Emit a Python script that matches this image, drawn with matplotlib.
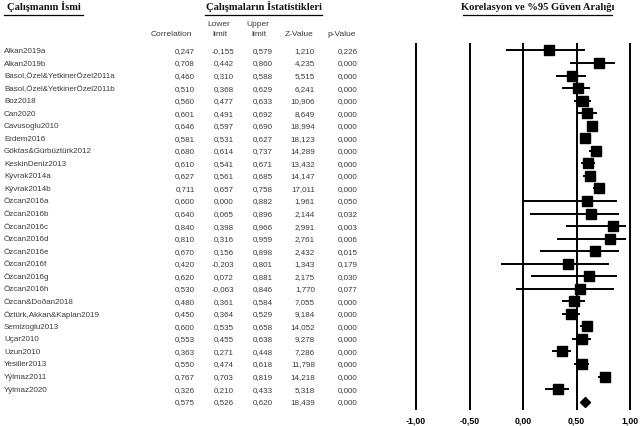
import numpy as np
import matplotlib
matplotlib.use("Agg")
import matplotlib.pyplot as plt
from matplotlib.transforms import blended_transform_factory
from matplotlib.lines import Line2D

studies = [
    "Alkan2019a", "Alkan2019b", "Basol,Özel&YetkinerÖzel2011a",
    "Basol,Özel&YetkinerÖzel2011b", "Boz2018", "Can2020", "Cavusoglu2010",
    "Erdem2016", "Göktas&Gürbüztürk2012", "KeskinDeniz2013", "Kývrak2014a",
    "Kývrak2014b", "Özcan2016a", "Özcan2016b", "Özcan2016c", "Özcan2016d",
    "Özcan2016e", "Özcan2016f", "Özcan2016g", "Özcan2016h", "Özcan&Doðan2018",
    "Öztürk,Akkan&Kaplan2019", "Semizoglu2013", "Uçar2010", "Uzun2010",
    "Yesiller2013", "Yýlmaz2011", "Yýlmaz2020",
]
corr = [0.247, 0.708, 0.460, 0.510, 0.560, 0.601, 0.646, 0.581, 0.680, 0.610,
        0.627, 0.711, 0.600, 0.640, 0.840, 0.810, 0.670, 0.420, 0.620, 0.530,
        0.480, 0.450, 0.600, 0.553, 0.363, 0.550, 0.767, 0.326]
lower = [-0.155, 0.442, 0.310, 0.368, 0.477, 0.491, 0.597, 0.531, 0.614, 0.541,
         0.561, 0.657, 0.000, 0.065, 0.398, 0.316, 0.156, -0.203, 0.072, -0.063,
         0.361, 0.364, 0.535, 0.455, 0.271, 0.474, 0.703, 0.210]
upper = [0.579, 0.860, 0.588, 0.629, 0.633, 0.692, 0.690, 0.627, 0.737, 0.671,
         0.685, 0.758, 0.882, 0.896, 0.966, 0.959, 0.898, 0.801, 0.881, 0.846,
         0.584, 0.529, 0.658, 0.638, 0.448, 0.618, 0.819, 0.433]
zval = [1.210, 4.235, 5.515, 6.241, 10.906, 8.649, 18.994, 18.123, 14.289, 13.432,
        14.147, 17.011, 1.961, 2.144, 2.991, 2.761, 2.432, 1.343, 2.175, 1.770,
        7.055, 9.184, 14.052, 9.278, 7.286, 11.798, 14.218, 5.318]
pval = [0.226, 0.000, 0.000, 0.000, 0.000, 0.000, 0.000, 0.000, 0.000, 0.000,
        0.000, 0.000, 0.050, 0.032, 0.003, 0.006, 0.015, 0.179, 0.030, 0.077,
        0.000, 0.000, 0.000, 0.000, 0.000, 0.000, 0.000, 0.000]
summary = {"corr": 0.575, "lower": 0.526, "upper": 0.620, "z": 18.439, "p": 0.000}
ticks = [-1.0, -0.5, 0.0, 0.5, 1.0]


def fmt(v):
    return ("%.3f" % v).replace(".", ",")


W, H = 640, 426
fig = plt.figure(figsize=(W / 100, H / 100), dpi=100)
fig.patch.set_facecolor("white")

# forest axes: x in correlation units, y = row index (pixel row = 50.5 + 12.54*i)
x0 = 523.0
unit = 107.0
left_px = x0 - 1.1 * unit
ax = fig.add_axes([left_px / W, 0, 2.2 * unit / W, 1])
ax.set_xlim(-1.1, 1.1)
ax.set_ylim((H - 50.5) / 12.54, -50.5 / 12.54)
ax.axis("off")

n = len(studies)
rows = np.arange(n)
ax.vlines(ticks, -0.6, n + 0.67, color="black", lw=1.4)
for r, c, lo, up in zip(rows, corr, lower, upper):
    ax.plot([lo, up], [r, r], color="black", lw=1.4, solid_capstyle="butt")
    ax.plot(c, r, marker="s", ms=6.8, color="black", mec="black")
ax.plot(summary["corr"], n, marker="D", ms=4.6, color="black")
for t in ticks:
    ax.text(t, n + 1.55, ("%.2f" % t).replace(".", ","), ha="center", va="center",
            fontsize=6.3, fontweight="bold", family="Liberation Sans")

# table text
tr = blended_transform_factory(fig.transFigure, ax.transData)
tcol = "#3a3a3a"
tfont = dict(fontsize=5.8, family="Liberation Sans", color=tcol, va="center_baseline")
cols_right = [195, 234, 273, 315, 358]
for r in rows:
    fig.text(4 / W, r, studies[r], transform=tr, ha="left", **tfont)
    vals = [corr[r], lower[r], upper[r], zval[r], pval[r]]
    for xr, v in zip(cols_right, vals):
        fig.text(xr / W, r, fmt(v), transform=tr, ha="right", **tfont)
svals = [summary["corr"], summary["lower"], summary["upper"], summary["z"], summary["p"]]
for xr, v in zip(cols_right, svals):
    fig.text(xr / W, n, fmt(v), transform=tr, ha="right", **tfont)


def py(p):
    return 1 - p / H


hfont = dict(fontsize=6.0, family="Liberation Sans", color=tcol, va="center_baseline")
fig.text(192 / W, py(34), "Correlation", ha="right", **hfont)
fig.text(219 / W, py(24), "Lower", ha="center", **hfont)
fig.text(220 / W, py(34), "limit", ha="center", **hfont)
fig.text(258 / W, py(24), "Upper", ha="center", **hfont)
fig.text(259 / W, py(34), "limit", ha="center", **hfont)
fig.text(299 / W, py(34), "Z-Value", ha="center", **hfont)
fig.text(342 / W, py(34), "p-Value", ha="center", **hfont)

# section titles, underlined
titles = [("Çalışmanın İsmi", 4, 83), ("Çalışmaların İstatistikleri", 205, 322),
          ("Korelasyon ve %95 Güven Aralığı", 463, 612)]
for txt, xa, xb in titles:
    fig.text((xa + xb) / 2 / W, py(7), txt, ha="center", va="center",
             fontsize=7.6, fontweight="bold", family="Liberation Serif", color="#111")
    fig.add_artist(Line2D([xa / W, xb / W], [py(15), py(15)], color="black", lw=0.9))

fig.savefig("out.png", dpi=100)
